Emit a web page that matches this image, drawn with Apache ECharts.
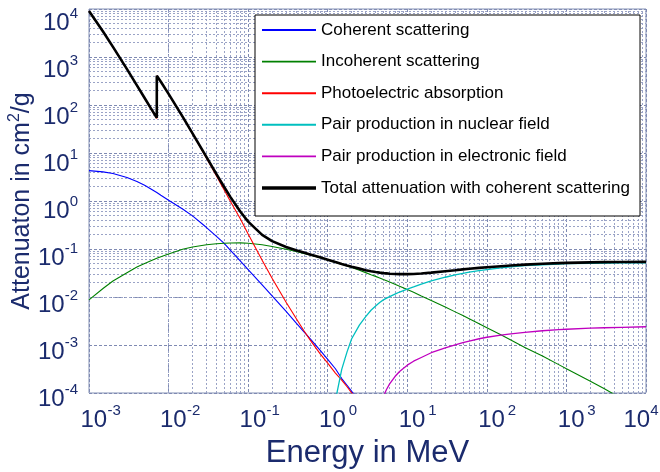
<!DOCTYPE html>
<html>
<head>
<meta charset="utf-8">
<title>Iron – mass attenuation coefficients</title>
<script src="https://cdn.jsdelivr.net/npm/echarts@6.0.0/dist/echarts.min.js"></script>
<style>
  html, body { margin: 0; padding: 0; background: #ffffff; }
  #chart { width: 660px; height: 472px; }
</style>
</head>
<body>
<div id="chart"></div>
<script>
// Photon energies in MeV (the K edge at 7.112 keV appears twice: below / above)
const energy = [
  0.001, 0.0015, 0.002, 0.003, 0.004, 0.005, 0.006, 0.007112, 0.007112, 0.008,
  0.01, 0.015, 0.02, 0.03, 0.04, 0.05, 0.06, 0.08, 0.1, 0.15,
  0.2, 0.3, 0.4, 0.5, 0.6, 0.8, 1, 1.25, 1.5, 1.75,
  2, 2.5, 3, 3.5, 4, 4.5, 5, 5.5, 6, 7,
  8, 10, 12, 15, 20, 30, 40, 50, 60, 80,
  100, 150, 200, 300, 500, 800, 1000, 2000, 3000, 5000,
  10000
];

// Partial attenuation coefficients in cm^2/g (null = not drawn)
const coherent = [
  4.3, 4.05, 3.75, 3.1, 2.55, 2.12, 1.78, 1.5, 1.5, 1.32,
  1.04, 0.68, 0.49, 0.28, 0.183, 0.131, 0.094, 0.056, 0.037, 0.0178,
  0.0105, 0.0050, 0.0029, 0.0019, 0.00136, 0.00078, 0.0005, 0.00032, 0.0002, 0.000145,
  0.000108, 0.00007, 0.000048, null, null, null, null, null, null, null,
  null, null, null, null, null, null, null, null, null, null,
  null, null, null, null, null, null, null, null, null, null,
  null
];

const incoherent = [
  0.0087, 0.015, 0.0215, 0.032, 0.042, 0.050, 0.057, 0.064, 0.064, 0.069,
  0.079, 0.099, 0.110, 0.123, 0.129, 0.132, 0.1335, 0.134, 0.132, 0.123,
  0.113, 0.0985, 0.0887, 0.081, 0.0749, 0.0658, 0.0591, 0.0527, 0.048, 0.0443,
  0.041, 0.0361, 0.0322, 0.0292, 0.0269, 0.0249, 0.0232, 0.0218, 0.0205, 0.0185,
  0.0168, 0.0143, 0.0126, 0.01055, 0.0085, 0.00617, 0.0049, 0.0041, 0.00353, 0.00278,
  0.0023, 0.00163, 0.00127, 0.00089, 0.00059, 0.00039, 0.00032, 0.000175, 0.000122, 0.000076,
  0.000040
];

const photoelectric = [
  9076, 3395, 1622, 554.5, 254, 137.6, 83, 52.4, 406, 304.2,
  169.5, 56.3, 25.1, 7.77, 3.31, 1.69, 0.98, 0.42, 0.205, 0.058,
  0.0245, 0.0078, 0.0036, 0.0020, 0.00128, 0.00066, 0.00042, 0.00026, 0.000185, 0.000135,
  0.0001, 0.00007, 0.000048, null, null, null, null, null, null, null,
  null, null, null, null, null, null, null, null, null, null,
  null, null, null, null, null, null, null, null, null, null,
  null
];

const pairNuclear = [
  null, null, null, null, null, null, null, null, null, null,
  null, null, null, null, null, null, null, null, null, null,
  null, null, null, null, null, null, null, 0.00007, 0.00031, 0.00072,
  0.00135, 0.0026, 0.0039, 0.0053, 0.0065, 0.0077, 0.0087, 0.0095, 0.0102, 0.0115,
  0.0127, 0.0146, 0.0162, 0.0185, 0.0216, 0.0258, 0.0288, 0.0312, 0.0330, 0.0355,
  0.0372, 0.0403, 0.0423, 0.0450, 0.0470, 0.0487, 0.0494, 0.0505, 0.0510, 0.0514,
  0.0517
];

const pairElectron = [
  null, null, null, null, null, null, null, null, null, null,
  null, null, null, null, null, null, null, null, null, null,
  null, null, null, null, null, null, null, null, null, null,
  null, null, null, null, 0.00003, 0.000055, 0.000085, 0.00012, 0.000155, 0.00022,
  0.00028, 0.00038, 0.00046, 0.00055, 0.00069, 0.00087, 0.00101, 0.00112, 0.00121, 0.00135,
  0.00145, 0.00161, 0.00171, 0.00184, 0.00198, 0.00209, 0.00213, 0.00224, 0.00229, 0.00234,
  0.0024
];

const totalWithCoherent = [
  9085, 3399, 1626, 557.6, 256.7, 139.8, 84.84, 54.04, 407.5, 305.6,
  170.6, 57.08, 25.68, 8.176, 3.629, 1.958, 1.205, 0.5952, 0.3717, 0.1964,
  0.146, 0.1099, 0.094, 0.08414, 0.07704, 0.06699, 0.05995, 0.0535, 0.04883, 0.0453,
  0.04265, 0.0390, 0.03621, 0.0344, 0.03312, 0.0322, 0.03146, 0.0310, 0.03057, 0.0302,
  0.02991, 0.02994, 0.0302, 0.03092, 0.03224, 0.0345, 0.0362, 0.0377, 0.0388, 0.0404,
  0.0416, 0.0438, 0.0452, 0.0472, 0.0493, 0.0508, 0.0515, 0.0527, 0.0532, 0.0536,
  0.0540
];

const seriesNames = [
  'Coherent scattering',
  'Incoherent scattering',
  'Photoelectric absorption',
  'Pair production in nuclear field',
  'Pair production in electronic field',
  'Total attenuation with coherent scattering'
];

const xDecades = [-3, -2, -1, 0, 1, 2, 3];
const yDecades = [-4, -3, -2, -1, 0, 1, 2, 3];

const navy = '#1b2b6d';
const fontFamily = "'Liberation Sans', Arial, Helvetica, sans-serif";

// legend keys: thin horizontal bars
const thinKey = 'path://M0,0L100,0L100,3.6L0,3.6Z';
const thickKey = 'path://M0,0L100,0L100,6.2L0,6.2Z';

function toPoints(values) {
  const pts = [];
  energy.forEach(function (e, i) {
    if (values[i] != null) pts.push([e, values[i]]);
  });
  return pts;
}

// dotted minor grid lines at 2..9 x 10^k
const minorLines = [];
xDecades.forEach(function (k) {
  for (let m = 2; m <= 9; m++) minorLines.push({ xAxis: m * Math.pow(10, k) });
});
yDecades.forEach(function (k) {
  for (let m = 2; m <= 9; m++) minorLines.push({ yAxis: m * Math.pow(10, k) });
});

// y tick labels sit a little below their grid line, a bit more near the top
const yLabelRich = {
  b: { fontSize: 24, lineHeight: 34, color: navy, fontFamily: fontFamily, verticalAlign: 'middle' },
  e: { fontSize: 15, lineHeight: 15, color: navy, fontFamily: fontFamily, verticalAlign: 'top' }
};
for (let i = 0; i <= 8; i++) {
  yLabelRich['g' + i] = { fontSize: 1, lineHeight: 2 * (6 + i * 1.06) };
}

function lineSeries(name, values, color, width, z) {
  return {
    name: name,
    type: 'line',
    data: toPoints(values),
    symbol: 'none',
    showSymbol: false,
    clip: true,
    z: z,
    lineStyle: { color: color, width: width },
    itemStyle: { color: color },
    emphasis: { disabled: true }
  };
}

const chart = echarts.init(document.getElementById('chart'), null, { renderer: 'canvas' });

chart.setOption({
  animation: false,
  backgroundColor: '#ffffff',
  grid: {
    left: 89, right: 14, top: 9, bottom: 79,
    show: true,
    borderColor: '#8390b4',
    borderWidth: 1,
    backgroundColor: 'transparent',
    containLabel: false,
    outerBoundsMode: 'none'
  },
  legend: {
    orient: 'vertical',
    left: 255,
    top: 15,
    z: 10,
    backgroundColor: '#ffffff',
    borderColor: '#000000',
    borderWidth: 1,
    padding: [5, 10, 18, 7],
    itemWidth: 54,
    itemHeight: 20,
    itemGap: 11.6,
    symbolKeepAspect: true,
    selectedMode: false,
    textStyle: { fontSize: 17, color: '#000000', fontFamily: fontFamily, lineHeight: 20 },
    data: [
      { name: seriesNames[0], icon: thinKey },
      { name: seriesNames[1], icon: thinKey },
      { name: seriesNames[2], icon: thinKey },
      { name: seriesNames[3], icon: thinKey },
      { name: seriesNames[4], icon: thinKey },
      { name: seriesNames[5], icon: thickKey }
    ]
  },
  xAxis: {
    type: 'log',
    logBase: 10,
    min: 0.001,
    max: 10000,
    name: 'Energy in MeV',
    nameLocation: 'middle',
    nameGap: 45,
    nameMoveOverlap: false,
    nameTextStyle: { fontSize: 31, color: navy, fontFamily: fontFamily },
    axisLine: { show: false },
    axisTick: { show: false },
    splitLine: { show: true, lineStyle: { color: '#7f8ab2', type: [3, 2], width: 1 } },
    axisLabel: {
      interval: 0,
      margin: 10,
      showMinLabel: true,
      showMaxLabel: true,
      hideOverlap: false,
      align: 'center',
      verticalAlign: 'top',
      color: navy,
      fontFamily: fontFamily,
      formatter: function (v) {
        const p = Math.round(Math.log10(v));
        if (p === 4) return '{b|10}{e4|4}{t| }';
        return '{s| }{b|10}{e|' + p + '}';
      },
      rich: {
        s: { width: 23.5, fontSize: 12, lineHeight: 34 },
        t: { width: 10, fontSize: 12, lineHeight: 34 },
        b: { fontSize: 24, lineHeight: 34, color: navy, fontFamily: fontFamily, verticalAlign: 'middle' },
        e: { fontSize: 15, lineHeight: 15, color: navy, fontFamily: fontFamily, verticalAlign: 'top', width: 14, align: 'left' },
        e4: { fontSize: 15, lineHeight: 15, color: navy, fontFamily: fontFamily, verticalAlign: 'top' }
      }
    }
  },
  yAxis: {
    type: 'log',
    logBase: 10,
    min: 0.0001,
    max: 10000,
    name: 'Attenuaton in cm{sup|2}/g',
    nameLocation: 'middle',
    nameGap: 52,
    nameRotate: 90,
    nameMoveOverlap: false,
    nameTextStyle: {
      fontSize: 25, color: navy, fontFamily: fontFamily, lineHeight: 30,
      rich: {
        sup: { fontSize: 16, lineHeight: 16, color: navy, fontFamily: fontFamily, verticalAlign: 'top' }
      }
    },
    axisLine: { show: false },
    axisTick: { show: false },
    splitLine: { show: true, lineStyle: { color: '#7f8ab2', type: [3, 2], width: 1 } },
    axisLabel: {
      interval: 0,
      margin: 11,
      showMinLabel: true,
      showMaxLabel: true,
      hideOverlap: false,
      color: navy,
      fontFamily: fontFamily,
      formatter: function (v) {
        const p = Math.round(Math.log10(v));
        return '{g' + (p + 4) + '| }\n{b|10}{e|' + p + '}';
      },
      rich: yLabelRich
    }
  },
  series: [
    {
      name: 'minor-grid',
      type: 'line',
      data: [[1, 1]],
      symbol: 'none',
      lineStyle: { opacity: 0 },
      z: 1,
      silent: true,
      markLine: {
        z: 1,
        silent: true,
        symbol: ['none', 'none'],
        label: { show: false },
        animation: false,
        lineStyle: { color: '#9aa3c6', type: [2, 2], width: 1 },
        emphasis: { disabled: true },
        data: minorLines
      }
    },
    lineSeries(seriesNames[0], coherent, '#0000ff', 1.1, 3),
    lineSeries(seriesNames[1], incoherent, '#008000', 1.1, 3),
    lineSeries(seriesNames[2], photoelectric, '#ff0000', 1.1, 3),
    lineSeries(seriesNames[3], pairNuclear, '#00bfbf', 1.3, 3),
    lineSeries(seriesNames[4], pairElectron, '#bf00bf', 1.3, 3),
    lineSeries(seriesNames[5], totalWithCoherent, '#000000', 2.6, 4)
  ]
});
</script>
</body>
</html>
